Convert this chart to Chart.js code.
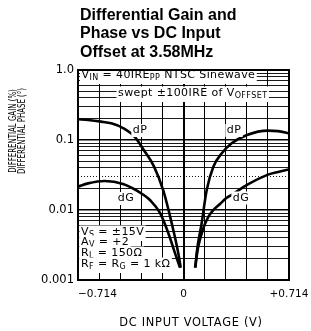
<!DOCTYPE html>
<html>
<head>
<meta charset="utf-8">
<script src="https://cdn.jsdelivr.net/npm/chart.js@4.4.1/dist/chart.umd.min.js"></script>
<style>
  html, body { margin: 0; padding: 0; background: #fff; }
</style>
</head>
<body>
<canvas id="dgChart" width="311" height="331"></canvas>
<script>
// values: DC offset (V) vs dP (deg) / dG (%)
// null marks the gap around the notch
const dpVolts  = [-0.714, -0.646, -0.558, -0.489, -0.409, -0.330, -0.269, -0.200, -0.137, -0.080, -0.035, -0.019, 0.03, 0.081, 0.089, 0.123, 0.157, 0.202, 0.259, 0.326, 0.430, 0.572, 0.640, 0.714];
const dpValues = [0.198, 0.193, 0.183, 0.173, 0.148, 0.111, 0.072, 0.042, 0.019, 0.0065, 0.0024, 0.0015, null, 0.0015, 0.0024, 0.0065, 0.0193, 0.0416, 0.0645, 0.0897, 0.118, 0.136, 0.134, 0.124];

const dgVolts  = [-0.714, -0.646, -0.533, -0.409, -0.269, -0.227, -0.159, -0.103, -0.057, -0.024, 0.03, 0.078, 0.100, 0.134, 0.168, 0.200, 0.247, 0.290, 0.337, 0.430, 0.572, 0.640, 0.714];
const dgValues = [0.0215, 0.024, 0.026, 0.0235, 0.0164, 0.0139, 0.0091, 0.0047, 0.0024, 0.0015, null, 0.0015, 0.0030, 0.0055, 0.0080, 0.0099, 0.0122, 0.0148, 0.017, 0.0228, 0.032, 0.035, 0.038];

// grid positions and tick labels
const xGrid = [-0.714, -0.5712, -0.4284, -0.2856, -0.1428, 0, 0.1428, 0.2856, 0.4284, 0.5712, 0.714];
const yGrid = [0.001, 0.002, 0.003, 0.004, 0.005, 0.006, 0.007, 0.008, 0.009,
               0.01, 0.02, 0.03, 0.04, 0.05, 0.06, 0.07, 0.08, 0.09,
               0.1, 0.2, 0.3, 0.4, 0.5, 0.6, 0.7, 0.8, 0.9, 1];
const yDecades = [0.001, 0.01, 0.1, 1];
const yTickLabels = ['0.001', '0.01', '0.1', '1.0'];
const xTickLabels = ['\u22120.714', '0', '+0.714'];

const titleLines = ['Differential Gain and', 'Phase vs DC Input', 'Offset at 3.58MHz'];
const yTitleLines = ['DIFFERENTIAL GAIN (%)', 'DIFFERENTIAL PHASE (\u00b0)'];
const xTitle = 'DC INPUT VOLTAGE (V)';

// condition notes, [text, isSubscript]
const topNotes = [
  [['V'], ['IN', 1], [' = 40IRE'], ['PP', 1], [' NTSC Sinewave']],
  [['swept \u00b1100IRE of V'], ['OFFSET', 1]]
];
const bottomNotes = [
  [['V'], ['S', 1], [' = \u00b115V']],
  [['A'], ['V', 1], [' = +2']],
  [['R'], ['L', 1], [' = 150\u03a9']],
  [['R'], ['F', 1], [' = R'], ['G', 1], [' = 1 k\u03a9']]
];

const FONT = 'DejaVu Sans';

function toPoints(xs, ys) {
    return xs.map((x, i) => ({ x: x, y: ys[i] }));
}

function drawRow(ctx, x, y, parts) {
    const main = '11px "' + FONT + '"';
    const sub = '8px "' + FONT + '"';
    let w = 0;
    let hasSub = false;
    parts.forEach(p => {
        ctx.font = p[1] ? sub : main;
        w += ctx.measureText(p[0]).width;
        if (p[1]) hasSub = true;
    });
    ctx.fillStyle = '#fff';
    ctx.fillRect(x - 1.5, y - 6.5, w + 3, hasSub ? 15.5 : 13);
    ctx.fillStyle = '#000';
    let cx = x;
    parts.forEach(p => {
        ctx.font = p[1] ? sub : main;
        ctx.fillText(p[0], cx, p[1] ? y + 3 : y);
        cx += ctx.measureText(p[0]).width;
    });
}

function drawLabel(ctx, text, x, y) {
    ctx.font = '11px "' + FONT + '"';
    const w = ctx.measureText(text).width;
    ctx.fillStyle = '#fff';
    ctx.fillRect(x - w / 2 - 1.5, y - 6.5, w + 3, 13);
    ctx.fillStyle = '#000';
    ctx.textAlign = 'center';
    ctx.fillText(text, x, y);
    ctx.textAlign = 'left';
}

const notes = {
    id: 'notes',
    afterDraw(chart) {
        const { ctx, chartArea: a } = chart;
        ctx.save();
        ctx.textBaseline = 'middle';
        ctx.letterSpacing = '0.4px';

        drawRow(ctx, 81.5, 75, topNotes[0]);
        drawRow(ctx, 118, 93, topNotes[1]);
        [232, 242, 253, 264].forEach((y, i) => drawRow(ctx, 81, y, bottomNotes[i]));

        drawLabel(ctx, 'dP', 140, 130.5);
        drawLabel(ctx, 'dP', 234, 130.5);
        drawLabel(ctx, 'dG', 126, 198.5);
        drawLabel(ctx, 'dG', 241, 198);

        // frame
        ctx.strokeStyle = '#000';
        ctx.lineWidth = 2;
        ctx.strokeRect(a.left, a.top, a.right - a.left, a.bottom - a.top);

        // title
        ctx.letterSpacing = '0px';
        ctx.fillStyle = '#000';
        ctx.font = 'bold 16px "Liberation Sans"';
        titleLines.forEach((t, i) => ctx.fillText(t, 80, 15.5 + i * 18.3));

        // x axis title
        ctx.font = '11.4px "' + FONT + '"';
        ctx.letterSpacing = '0.7px';
        ctx.textAlign = 'center';
        ctx.fillText(xTitle, 191, 323);

        // y axis title, condensed
        ctx.letterSpacing = '0px';
        ctx.font = '10px "' + FONT + '"';
        [13.5, 22.5].forEach((x, i) => {
            ctx.save();
            ctx.translate(x, 131);
            ctx.rotate(-Math.PI / 2);
            ctx.scale(0.7, 1);
            ctx.fillText(yTitleLines[i], 0, 0);
            ctx.restore();
        });
        ctx.restore();
    }
};

const ctx = document.getElementById('dgChart').getContext('2d');

new Chart(ctx, {
    type: 'line',
    data: {
        datasets: [
            {
                label: 'dP',
                data: toPoints(dpVolts, dpValues),
                borderColor: '#000',
                borderWidth: 2.6,
                pointRadius: 0,
                cubicInterpolationMode: 'monotone',
                spanGaps: false,
            },
            {
                label: 'dG',
                data: toPoints(dgVolts, dgValues),
                borderColor: '#000',
                borderWidth: 2.6,
                pointRadius: 0,
                cubicInterpolationMode: 'monotone',
                spanGaps: false,
            }
        ]
    },
    options: {
        responsive: false,
        animation: false,
        layout: { padding: { top: 70, right: 22, left: 0, bottom: 0 } },
        scales: {
            x: {
                type: 'linear',
                min: -0.714,
                max: 0.714,
                afterFit: scale => { scale.height = 51; },
                afterBuildTicks: scale => {
                    // extra tick at the right edge so 'inner' keeps +0.714 centred
                    scale.ticks = xGrid.concat([0.714]).map(v => ({ value: v }));
                },
                grid: {
                    color: '#000',
                    lineWidth: c => (c.tick && Math.abs(c.tick.value) < 1e-6 ? 2 : 1),
                    drawTicks: false,
                },
                border: { display: false },
                ticks: {
                    autoSkip: false,
                    maxRotation: 0,
                    align: 'inner',
                    padding: 8,
                    color: '#000',
                    font: { family: FONT, size: 10.5 },
                    callback: (value, index) => {
                        if (index === 0) return xTickLabels[0];
                        if (Math.abs(value) < 1e-6) return xTickLabels[1];
                        if (index === xGrid.length - 1) return xTickLabels[2];
                        return '';
                    }
                }
            },
            y: {
                type: 'logarithmic',
                min: 0.001,
                max: 1,
                afterFit: scale => { scale.width = 78; },
                afterBuildTicks: scale => {
                    scale.ticks = yGrid.map(v => ({ value: v }));
                },
                grid: {
                    color: '#000',
                    lineWidth: c => (c.tick && yDecades.indexOf(c.tick.value) >= 0 ? 1.4 : 0.9),
                    drawTicks: false,
                },
                border: {
                    display: false,
                    dash: c => (c.tick && c.tick.value === 0.03 ? [1, 2] : []),
                },
                ticks: {
                    autoSkip: false,
                    padding: 4,
                    color: '#000',
                    font: { family: FONT, size: 11.5 },
                    callback: value => {
                        const i = yDecades.indexOf(value);
                        return i >= 0 ? yTickLabels[i] : '';
                    }
                }
            }
        },
        plugins: {
            legend: { display: false },
            tooltip: { enabled: false },
        }
    },
    plugins: [notes]
});
</script>
</body>
</html>
